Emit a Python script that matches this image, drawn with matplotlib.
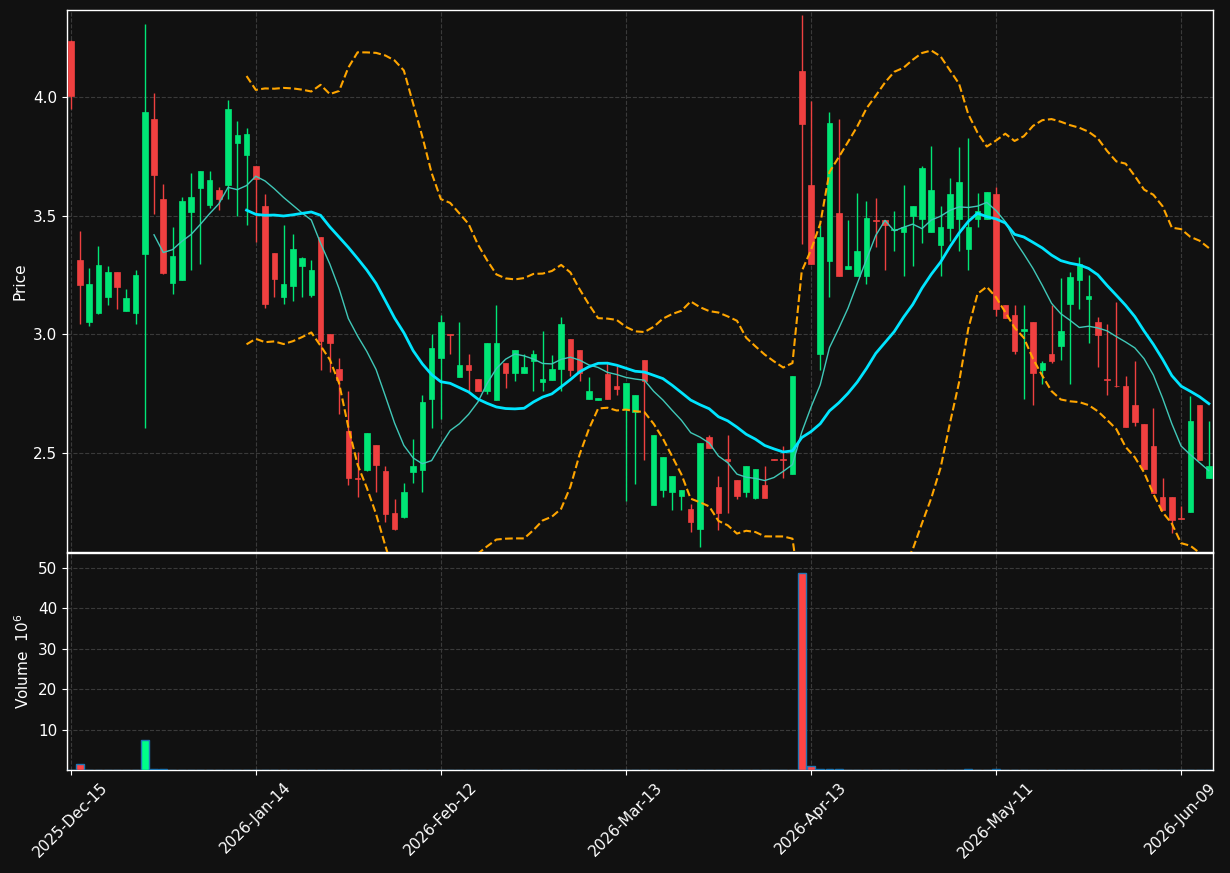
import numpy as np
import pandas as pd
import matplotlib
matplotlib.use("Agg")
import matplotlib.pyplot as plt

# daily OHLC (124 trading days, 2025-12-15 .. 2026-06-12)
opens = [4.238, 3.314, 3.050, 3.091, 3.158, 3.262, 3.100, 3.091, 3.340, 3.909,
         3.570, 3.218, 3.230, 3.518, 3.619, 3.547, 3.609, 3.628, 3.808, 3.758,
         3.710, 3.541, 3.343, 3.158, 3.205, 3.290, 3.167, 3.411, 3.000, 2.852,
         2.591, 2.395, 2.428, 2.534, 2.424, 2.246, 2.229, 2.421, 2.428, 2.729,
         2.902, 3.000, 2.821, 2.871, 2.811, 2.760, 2.724, 2.881, 2.839, 2.839,
         2.887, 2.801, 2.809, 2.853, 2.979, 2.933, 2.729, 2.724, 2.833, 2.782,
         2.686, 2.672, 2.891, 2.282, 2.345, 2.333, 2.320, 2.262, 2.180, 2.567,
         2.356, 2.474, 2.386, 2.333, 2.309, 2.365, 2.473, 2.473, 2.412, 4.110,
         3.630, 2.916, 3.311, 3.512, 3.277, 3.248, 3.248, 3.482, 3.481, 3.441,
         3.430, 3.497, 3.487, 3.430, 3.377, 3.450, 3.487, 3.358, 3.488, 3.488,
         3.592, 3.122, 3.082, 3.012, 3.051, 2.850, 2.919, 2.949, 3.129, 3.230,
         3.151, 3.051, 2.812, 2.783, 2.782, 2.702, 2.622, 2.528, 2.314, 2.314,
         2.226, 2.252, 2.702, 2.392]
highs = [4.240, 3.434, 3.280, 3.371, 3.290, 3.262, 3.191, 3.270, 4.308, 4.016,
         3.633, 3.452, 3.578, 3.679, 3.689, 3.689, 3.622, 3.987, 3.899, 3.870,
         3.710, 3.591, 3.343, 3.460, 3.422, 3.328, 3.314, 3.411, 3.000, 2.902,
         2.760, 2.503, 2.584, 2.534, 2.443, 2.305, 2.371, 2.560, 2.743, 3.000,
         3.081, 3.000, 3.050, 2.915, 2.811, 2.963, 3.122, 2.881, 2.933, 2.918,
         2.933, 3.012, 2.912, 3.072, 2.979, 2.933, 2.821, 2.731, 2.877, 2.867,
         2.795, 2.743, 2.891, 2.575, 2.482, 2.402, 2.343, 2.284, 2.541, 2.575,
         2.402, 2.575, 2.386, 2.443, 2.433, 2.443, 2.473, 2.531, 2.824, 4.346,
         3.985, 3.463, 3.937, 3.908, 3.481, 3.598, 3.562, 3.576, 3.481, 3.519,
         3.629, 3.541, 3.710, 3.796, 3.540, 3.658, 3.789, 3.826, 3.598, 3.600,
         3.622, 3.122, 3.122, 3.122, 3.051, 2.887, 3.122, 3.239, 3.261, 3.328,
         3.249, 3.072, 3.043, 3.136, 2.824, 2.889, 2.622, 2.688, 2.393, 2.314,
         2.276, 2.742, 2.702, 2.635]
lows = [3.952, 3.043, 3.035, 3.085, 3.123, 3.108, 3.100, 3.043, 2.604, 3.509,
        3.255, 3.169, 3.230, 3.270, 3.298, 3.532, 3.523, 3.569, 3.499, 3.460,
        3.390, 3.109, 3.158, 3.130, 3.141, 3.158, 3.158, 2.850, 2.840, 2.663,
        2.364, 2.312, 2.422, 2.334, 2.210, 2.173, 2.225, 2.371, 2.334, 2.604,
        2.641, 2.919, 2.821, 2.760, 2.760, 2.749, 2.724, 2.774, 2.804, 2.839,
        2.760, 2.760, 2.809, 2.760, 2.826, 2.804, 2.729, 2.724, 2.729, 2.745,
        2.296, 2.367, 2.469, 2.282, 2.312, 2.261, 2.261, 2.166, 2.103, 2.522,
        2.173, 2.246, 2.305, 2.312, 2.305, 2.311, 2.471, 2.393, 2.412, 3.380,
        3.298, 2.850, 3.158, 3.248, 3.277, 3.248, 3.211, 3.368, 3.270, 3.350,
        3.248, 3.290, 3.386, 3.430, 3.248, 3.392, 3.350, 3.270, 3.452, 3.488,
        3.079, 3.070, 2.916, 2.729, 2.701, 2.790, 2.881, 2.891, 2.792, 3.108,
        2.962, 2.861, 2.745, 2.777, 2.608, 2.613, 2.430, 2.330, 2.261, 2.163,
        2.223, 2.252, 2.468, 2.392]
closes = [4.007, 3.210, 3.213, 3.292, 3.262, 3.201, 3.154, 3.251, 3.938, 3.670,
          3.260, 3.330, 3.563, 3.579, 3.689, 3.651, 3.569, 3.949, 3.840, 3.845,
          3.654, 3.129, 3.235, 3.213, 3.361, 3.323, 3.271, 2.971, 2.962, 2.809,
          2.393, 2.391, 2.584, 2.450, 2.243, 2.180, 2.334, 2.443, 2.714, 2.943,
          3.051, 2.998, 2.871, 2.850, 2.760, 2.963, 2.963, 2.839, 2.933, 2.862,
          2.919, 2.811, 2.853, 3.043, 2.850, 2.839, 2.760, 2.731, 2.729, 2.771,
          2.795, 2.743, 2.804, 2.575, 2.482, 2.402, 2.343, 2.210, 2.541, 2.522,
          2.245, 2.465, 2.320, 2.443, 2.433, 2.311, 2.471, 2.471, 2.824, 3.889,
          3.298, 3.409, 3.891, 3.248, 3.290, 3.350, 3.491, 3.480, 3.460, 3.443,
          3.453, 3.541, 3.702, 3.609, 3.453, 3.592, 3.642, 3.453, 3.519, 3.600,
          3.108, 3.070, 2.931, 3.022, 2.836, 2.881, 2.887, 3.015, 3.240, 3.298,
          3.161, 2.999, 2.808, 2.780, 2.608, 2.632, 2.430, 2.330, 2.261, 2.217,
          2.223, 2.635, 2.468, 2.443]
# volume in millions
volumes = [0.02, 1.6, 0.02, 0.02, 0.02, 0.02, 0.02, 0.02, 7.5, 0.3,
           0.2, 0.02, 0.02, 0.02, 0.02, 0.02, 0.02, 0.02, 0.02, 0.02,
           0.02, 0.02, 0.02, 0.02, 0.02, 0.02, 0.02, 0.02, 0.02, 0.02,
           0.02, 0.02, 0.02, 0.02, 0.02, 0.02, 0.02, 0.02, 0.02, 0.02,
           0.02, 0.02, 0.02, 0.02, 0.02, 0.02, 0.02, 0.02, 0.02, 0.02,
           0.02, 0.02, 0.02, 0.02, 0.02, 0.02, 0.02, 0.02, 0.02, 0.02,
           0.02, 0.02, 0.02, 0.02, 0.02, 0.02, 0.02, 0.02, 0.02, 0.02,
           0.02, 0.02, 0.02, 0.02, 0.02, 0.02, 0.02, 0.02, 0.02, 48.8,
           0.9, 0.3, 0.25, 0.2, 0.02, 0.02, 0.02, 0.02, 0.02, 0.02,
           0.02, 0.02, 0.02, 0.02, 0.02, 0.02, 0.02, 0.3, 0.02, 0.02,
           0.3, 0.02, 0.02, 0.02, 0.02, 0.02, 0.02, 0.02, 0.02, 0.02,
           0.02, 0.02, 0.02, 0.02, 0.02, 0.02, 0.02, 0.02, 0.02, 0.02,
           0.02, 0.02, 0.02, 0.02]

tick_pos = [0, 20, 40, 60, 80, 100, 120]
tick_labels = ['2025-Dec-15', '2026-Jan-14', '2026-Feb-12', '2026-Mar-13',
               '2026-Apr-13', '2026-May-11', '2026-Jun-09']

BG = '#111111'
UP = '#00e676'
DOWN = '#ef4040'
VUP = '#00ff88'
VDOWN = '#ff4444'


def style_axis(ax):
    ax.set_facecolor(BG)
    for s in ax.spines.values():
        s.set_color('white')
        s.set_linewidth(1.0)
    ax.tick_params(colors='white', labelsize=11)
    ax.grid(True, linestyle='--', color='#3a3a3a', linewidth=0.8)
    ax.set_axisbelow(True)


df = pd.DataFrame({'Open': opens, 'High': highs, 'Low': lows,
                   'Close': closes, 'Volume': volumes})
x = np.arange(len(df))
up = df['Close'] >= df['Open']

sma10 = df['Close'].rolling(10).mean()
sma20 = df['Close'].rolling(20).mean()
std20 = df['Close'].rolling(20).std(ddof=0)
bb_up = sma20 + 2 * std20
bb_lo = sma20 - 2 * std20

fig = plt.figure(figsize=(12.3, 8.73), dpi=100, facecolor=BG)
ax = fig.add_axes([0.0545, 0.3677, 0.9317, 0.6209])
axv = fig.add_axes([0.0545, 0.118, 0.9317, 0.2486], sharex=ax)
style_axis(ax)
style_axis(axv)

# candles
colors = np.where(up, UP, DOWN)
ax.vlines(x, df['Low'], df['High'], colors=colors, linewidth=1.0, zorder=2)
body_lo = np.minimum(df['Open'], df['Close'])
body_h = np.maximum((df['Close'] - df['Open']).abs(), 0.004)
ax.bar(x, body_h, bottom=body_lo, width=0.6, color=colors, edgecolor=colors,
       linewidth=0.5, zorder=3)

# indicators
ax.plot(x, sma10, color='#40c8b8', linewidth=1.0, zorder=4)
ax.plot(x, sma20, color='#00e5ff', linewidth=2.0, zorder=4)
ax.plot(x, bb_up, color='#ffa500', linestyle='--', linewidth=1.5, zorder=4)
ax.plot(x, bb_lo, color='#ffa500', linestyle='--', linewidth=1.5, zorder=4)

ax.set_ylim(2.082, 4.368)
ax.set_yticks([2.5, 3.0, 3.5, 4.0])
ax.set_ylabel('Price', color='white', fontsize=11)
ax.tick_params(axis='x', labelbottom=False, length=0)

# volume
vcolors = np.where(up, VUP, VDOWN)
axv.bar(x, df['Volume'], width=0.85, color=vcolors, edgecolor='#1f77b4',
        linewidth=1.0, zorder=3)
axv.set_ylim(0, 1.1 * df['Volume'].max())
axv.set_yticks([10, 20, 30, 40, 50])
axv.set_ylabel('Volume  $10^{6}$', color='white', fontsize=11)

axv.set_xlim(-0.4, 123.45)
axv.set_xticks(tick_pos)
axv.set_xticklabels(tick_labels, rotation=45, ha='center')

fig.savefig('out.png', dpi=100, facecolor=BG)
